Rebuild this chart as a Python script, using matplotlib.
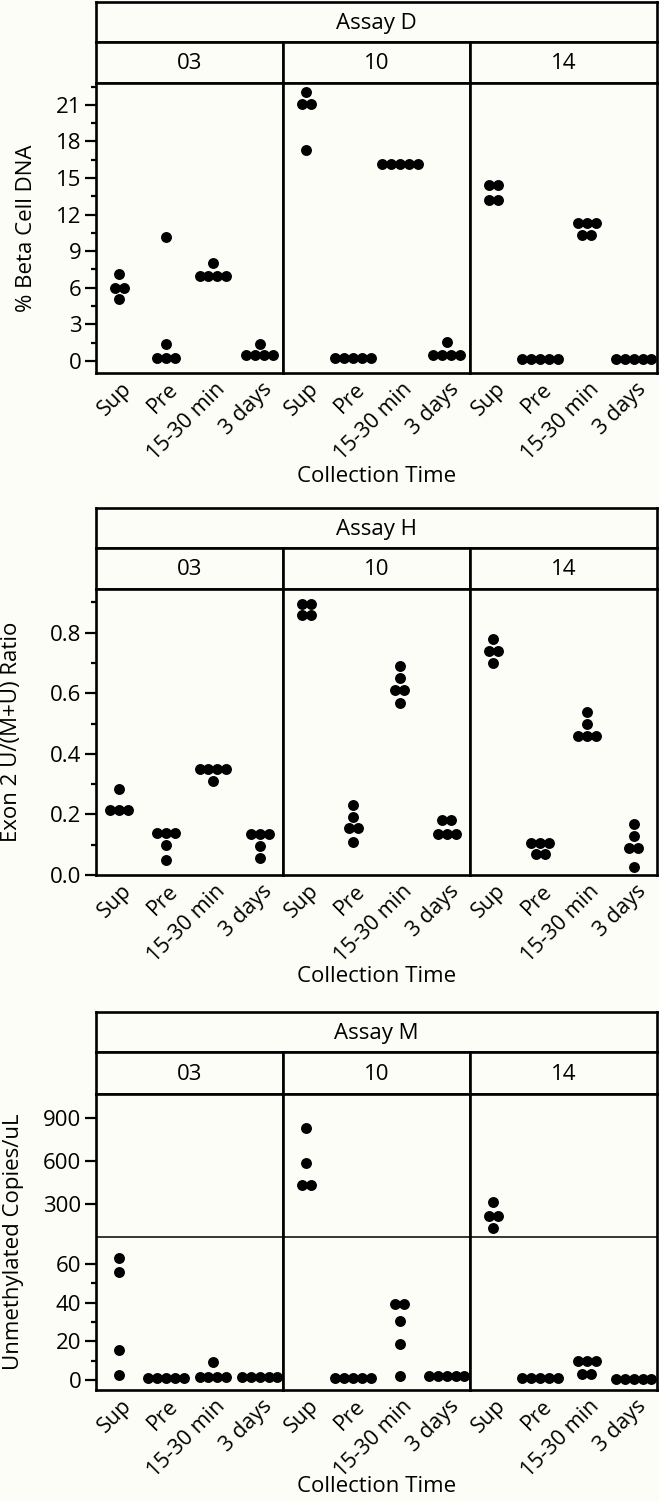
import numpy as np
import matplotlib
matplotlib.use('Agg')
import matplotlib.pyplot as plt
import matplotlib.transforms as mtrans
from matplotlib.ticker import MultipleLocator, FixedLocator

plt.rcParams['font.family'] = ['Open Sans', 'DejaVu Sans']

times = ['Sup', 'Pre', '15-30 min', '3 days']
subjects = ['03', '10', '14']

# Assay D - % Beta Cell DNA (per subject: Sup, Pre, 15-30 min, 3 days)
d_03 = [[7.1, 6.0, 6.0, 5.1], [10.2, 1.4, 0.25, 0.25, 0.25],
        [8.0, 7.0, 7.0, 7.0, 7.0], [1.4, 0.45, 0.45, 0.45, 0.45]]
d_10 = [[22.1, 21.1, 21.1, 17.3], [0.27, 0.27, 0.27, 0.27, 0.27],
        [16.15, 16.15, 16.15, 16.15, 16.15], [1.55, 0.5, 0.5, 0.5, 0.5]]
d_14 = [[14.4, 14.4, 13.2, 13.2], [0.15, 0.15, 0.15, 0.15, 0.15],
        [11.3, 11.3, 11.3, 10.35, 10.35], [0.15, 0.15, 0.15, 0.15, 0.15]]

# Assay H - Exon 2 U/(M+U) ratio
h_03 = [[0.285, 0.215, 0.215, 0.215], [0.14, 0.14, 0.14, 0.10, 0.05],
        [0.35, 0.35, 0.35, 0.35, 0.31], [0.135, 0.135, 0.135, 0.095, 0.055]]
h_10 = [[0.895, 0.895, 0.857, 0.857], [0.23, 0.19, 0.155, 0.155, 0.11],
        [0.69, 0.65, 0.61, 0.61, 0.567], [0.183, 0.183, 0.135, 0.135, 0.135]]
h_14 = [[0.78, 0.741, 0.741, 0.70], [0.107, 0.107, 0.107, 0.069, 0.069],
        [0.538, 0.498, 0.46, 0.46, 0.46], [0.167, 0.128, 0.09, 0.09, 0.027]]

# Assay M - Unmethylated copies/uL
m_03 = [[63, 56, 15.5, 2.5], [1.0, 1.0, 1.0, 1.0, 1.0],
        [9.3, 1.5, 1.5, 1.5, 1.5], [1.3, 1.3, 1.3, 1.3, 1.3]]
m_10 = [[830, 590, 435, 435], [1.2, 1.2, 1.2, 1.2, 1.2],
        [39.5, 39.5, 30.5, 18.5, 2.0], [2.1, 2.1, 2.1, 2.1, 2.1]]
m_14 = [[318, 219, 219, 138], [1.2, 1.2, 1.2, 1.2, 1.2],
        [9.8, 9.8, 9.8, 3.2, 3.2], [0.3, 0.3, 0.3, 0.3, 0.3]]

BG = '#fdfdf8'
W, H = 659, 1502
fig = plt.figure(figsize=(W / 100, H / 100), dpi=100, facecolor=BG)

def rect(x0, y0, x1, y1):
    return [x0 / W, 1 - y1 / H, (x1 - x0) / W, (y1 - y0) / H]

# piecewise linear y scale for assay M (compressed above the break)
brk, k = 74.0, 13.4
def fwd(v):
    v = np.asarray(v, float)
    return np.where(v <= brk, v, brk + (v - brk) / k)
def inv(u):
    u = np.asarray(u, float)
    return np.where(u <= brk, u, brk + (u - brk) * k)

def swarm(vals, step=0.19):
    vals = np.asarray(vals, float)
    off = np.zeros(len(vals))
    for u in np.unique(vals):
        idx = np.where(vals == u)[0]
        off[idx] = (np.arange(len(idx)) - (len(idx) - 1) / 2) * step
    return off

cols = [96, 283, 470, 657]
LW = 1.9
FS = 16
# offset (pixels) of rotated category labels from the tick position
lab_off = mtrans.ScaledTranslation(9 / 100, -13 / 100, fig.dpi_scale_trans)

panels = [
    ('Assay D', [d_03, d_10, d_14], '% Beta Cell DNA', (2, 42, 83, 373), 477, 27),
    ('Assay H', [h_03, h_10, h_14], 'Exon 2 U/(M+U) Ratio', (508, 548, 589, 875), 977, 12),
    ('Assay M', [m_03, m_10, m_14], 'Unmethylated Copies/uL', (1012, 1052, 1094, 1390), 1486, 14),
]

def style_box(ax):
    ax.set_facecolor(BG)
    for s in ax.spines.values():
        s.set_linewidth(LW)

for p, (title, data, ylab, (top, l1, l2, bot), xl_y, yl_x) in enumerate(panels):
    hax = fig.add_axes(rect(cols[0], top, cols[-1], l1))
    style_box(hax)
    hax.set_xticks([]); hax.set_yticks([])
    hax.text(0.5, 0.47, title, ha='center', va='center', fontsize=FS, transform=hax.transAxes)

    for c in range(3):
        sax = fig.add_axes(rect(cols[c], l1, cols[c + 1], l2))
        style_box(sax)
        sax.set_xticks([]); sax.set_yticks([])
        sax.text(0.5, 0.47, subjects[c], ha='center', va='center', fontsize=FS, transform=sax.transAxes)

        ax = fig.add_axes(rect(cols[c], l2, cols[c + 1], bot))
        style_box(ax)
        if p == 2:
            ax.set_yscale('function', functions=(fwd, inv))
        for i, vals in enumerate(data[c]):
            ax.scatter(i + swarm(vals), vals, s=62, color='black', linewidths=0, zorder=3)
        ax.set_xlim(-0.5, 3.5)
        if p == 0:
            ax.set_ylim(-1.0, 22.8)
            ax.yaxis.set_major_locator(MultipleLocator(3))
            ax.yaxis.set_minor_locator(MultipleLocator(1.5))
            ax.yaxis.set_major_formatter(plt.FuncFormatter(lambda v, _: '%d' % round(v)))
        elif p == 1:
            ax.set_ylim(0, 0.944)
            ax.yaxis.set_major_locator(MultipleLocator(0.2))
            ax.yaxis.set_minor_locator(MultipleLocator(0.1))
            ax.yaxis.set_major_formatter(plt.FuncFormatter(lambda v, _: '%.1f' % v))
        else:
            ax.set_ylim(-5.2, 1065)
            ax.yaxis.set_major_locator(FixedLocator([0, 20, 40, 60, 300, 600, 900]))
            ax.yaxis.set_minor_locator(FixedLocator([10, 30, 50]))
            ax.yaxis.set_major_formatter(plt.FuncFormatter(lambda v, _: '%d' % round(v)))
            ax.axhline(brk, color='black', lw=1.1, zorder=2)
        ax.set_xticks(range(4))
        ax.set_xticklabels([])
        ax.tick_params(axis='x', length=0)
        tr = mtrans.blended_transform_factory(ax.transData, ax.transAxes) + lab_off
        for i, t in enumerate(times):
            ax.text(i, 0, t, transform=tr, rotation=45, ha='right', va='center',
                    rotation_mode='anchor', fontsize=FS - 0.5, clip_on=False)
        ax.tick_params(axis='y', which='major', length=8, width=1.6, labelsize=FS, pad=2.5)
        ax.tick_params(axis='y', which='minor', length=3.8, width=1.6)
        if c != 0:
            ax.tick_params(axis='y', which='both', left=False, labelleft=False)

    fig.text(yl_x / W, 1 - (l2 + bot) / 2 / H, ylab, rotation=90,
             ha='center', va='center', fontsize=FS)
    fig.text((cols[0] + cols[-1]) / 2 / W, 1 - xl_y / H, 'Collection Time',
             ha='center', va='center', fontsize=FS)

fig.savefig('out.png', dpi=100, facecolor=BG)
